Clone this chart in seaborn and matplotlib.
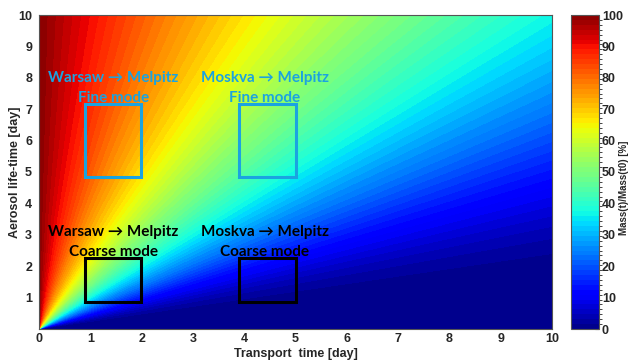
import numpy as np
import matplotlib
matplotlib.use("Agg")
import matplotlib.pyplot as plt
from matplotlib.colors import ListedColormap, BoundaryNorm
import seaborn as sns

# Grid of transport time and aerosol life-time (days)
transport_days = np.linspace(0.0, 10.0, 501)
lifetime_days = np.linspace(0.005, 10.0, 501)
cbar_ticks = [0, 10, 20, 30, 40, 50, 60, 70, 80, 90, 100]
axis_ticks = [0, 1, 2, 3, 4, 5, 6, 7, 8, 9, 10]
y_tick_labels = ["", "1", "2", "3", "4", "5", "6", "7", "8", "9", "10"]

# Source regions: route, mode, colour, box extent and text anchors
routes = ["Warsaw \u2192 Melpitz", "Moskva \u2192 Melpitz", "Warsaw \u2192 Melpitz", "Moskva \u2192 Melpitz"]
modes = ["Fine mode", "Fine mode", "Coarse mode", "Coarse mode"]
route_colors = ["#1ba3e0", "#1ba3e0", "#000000", "#000000"]
box_x0 = [0.9, 3.9, 0.9, 3.9]
box_x1 = [1.98, 5.0, 1.98, 5.0]
box_y0 = [4.85, 4.85, 0.85, 0.85]
box_y1 = [7.15, 7.15, 2.25, 2.25]
route_text_x = [1.45, 4.4, 1.45, 4.4]
route_text_y = [8.0, 8.0, 3.1, 3.1]
mode_text_y = [7.35, 7.35, 2.45, 2.45]

sns.set_style("white")
plt.rcParams["font.family"] = ["Liberation Sans", "DejaVu Sans"]

T, L = np.meshgrid(transport_days, lifetime_days)
mass_ratio = 100.0 * np.exp(-T / L)

n_levels = 64
levels = np.linspace(0, 100, n_levels + 1)
cmap = ListedColormap(sns.mpl_palette("jet", n_levels))
norm = BoundaryNorm(levels, cmap.N)

fig = plt.figure(figsize=(6.36, 3.6), dpi=100)
ax = fig.add_axes([39 / 636, 31 / 360, 513 / 636, 314 / 360])
cax = fig.add_axes([571 / 636, 31 / 360, 28 / 636, 314 / 360])

cs = ax.contourf(T, L, mass_ratio, levels=levels, cmap=cmap, norm=norm)
ax.set_xlim(0, 10)
ax.set_ylim(0, 10)
ax.set_xticks(axis_ticks)
ax.set_yticks(axis_ticks)
ax.set_yticklabels(y_tick_labels)
ax.tick_params(direction="in", length=0, labelsize=9, pad=5)
ax.tick_params(axis="x", pad=3)
for lab in ax.get_xticklabels() + ax.get_yticklabels():
    lab.set_fontweight("bold")
ax.set_xlabel("Transport  time [day]", fontsize=9, fontweight="bold")
ax.set_ylabel("Aerosol life-time [day]", fontsize=9, fontweight="bold")
ax.xaxis.set_label_coords(0.5, -(354 - 329) / 314)
ax.yaxis.set_label_coords(-(39 - 15) / 513, 0.5)
ax.xaxis.label.set_va("center")
ax.yaxis.label.set_va("center")
for sp in ax.spines.values():
    sp.set_color("#555555")
    sp.set_linewidth(0.8)

text_font = ["Lato", "DejaVu Sans"]
for i in range(len(routes)):
    w = box_x1[i] - box_x0[i]
    h = box_y1[i] - box_y0[i]
    ax.add_patch(plt.Rectangle((box_x0[i], box_y0[i]), w, h, fill=False,
                               edgecolor=route_colors[i], linewidth=2.2))
    ax.text(route_text_x[i], route_text_y[i], routes[i], color=route_colors[i],
            ha="center", va="center", fontsize=11, fontweight="bold", family=text_font)
    ax.text(route_text_x[i], mode_text_y[i], modes[i], color=route_colors[i],
            ha="center", va="center", fontsize=11, fontweight="bold", family=text_font)

cb = fig.colorbar(cs, cax=cax, ticks=cbar_ticks)
cb.ax.tick_params(direction="in", length=3, labelsize=9, pad=2)
for lab in cb.ax.get_yticklabels():
    lab.set_fontweight("bold")
cb.outline.set_edgecolor("#555555")
cb.outline.set_linewidth(0.8)
fig.text(624 / 636, 172 / 360, "Mass(t)/Mass(t0) [%]", rotation=90, ha="center",
         va="center", fontsize=7, fontweight="bold")

fig.savefig("out.png", dpi=100)
